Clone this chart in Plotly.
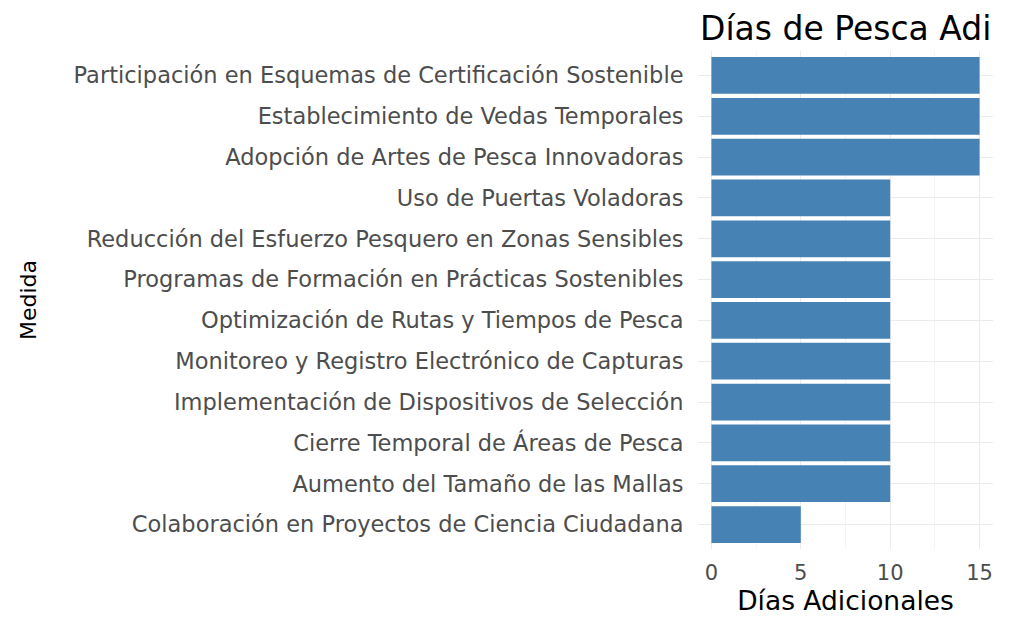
import plotly.graph_objects as go

medidas = [
    "Colaboración en Proyectos de Ciencia Ciudadana",
    "Aumento del Tamaño de las Mallas",
    "Cierre Temporal de Áreas de Pesca",
    "Implementación de Dispositivos de Selección",
    "Monitoreo y Registro Electrónico de Capturas",
    "Optimización de Rutas y Tiempos de Pesca",
    "Programas de Formación en Prácticas Sostenibles",
    "Reducción del Esfuerzo Pesquero en Zonas Sensibles",
    "Uso de Puertas Voladoras",
    "Adopción de Artes de Pesca Innovadoras",
    "Establecimiento de Vedas Temporales",
    "Participación en Esquemas de Certificación Sostenible",
]
dias = [5, 10, 10, 10, 10, 10, 10, 10, 10, 15, 15, 15]
x_ticks = [0, 5, 10, 15]
titulo = "Días de Pesca Adi"

font = "DejaVu Sans, sans-serif"

fig = go.Figure(go.Bar(
    x=dias, y=medidas, orientation="h",
    marker=dict(color="#4682B4", line=dict(width=0)),
    width=0.9,
))

W, H = 1009, 611
fig.update_layout(
    width=W, height=H,
    margin=dict(l=690, r=24, t=43, b=70, autoexpand=False),
    plot_bgcolor="white", paper_bgcolor="white",
    showlegend=False,
    title=dict(text=titulo, x=692 / W, xanchor="left", xref="container",
               y=1 - 20 / H, yanchor="middle", yref="container",
               font=dict(family=font, size=33, color="black")),
    font=dict(family=font),
)
fig.update_xaxes(
    range=[-0.75, 15.75], tickvals=x_ticks,
    ticks="outside", ticklen=5, tickcolor="rgba(0,0,0,0)",
    showgrid=True, gridcolor="#EBEBEB", gridwidth=1.2,
    minor=dict(tickvals=[2.5, 7.5, 12.5], showgrid=True, gridcolor="#F4F4F4", gridwidth=0.8),
    zeroline=False, showline=False,
    tickfont=dict(family=font, size=21, color="#4D4D4D"),
    title=dict(text="Días Adicionales", font=dict(family=font, size=26.5, color="black"), standoff=4),
)
fig.update_yaxes(
    categoryorder="array", categoryarray=medidas, range=[-0.6, 11.6],
    showgrid=True, gridcolor="#EBEBEB", gridwidth=1.2,
    zeroline=False, showline=False, ticks="outside", ticklen=9, tickcolor="rgba(0,0,0,0)",
    tickfont=dict(family=font, size=22.5, color="#4D4D4D"),
    title=dict(text="Medida", font=dict(family=font, size=22, color="black"), standoff=30),
)

fig.write_html("out.html")
